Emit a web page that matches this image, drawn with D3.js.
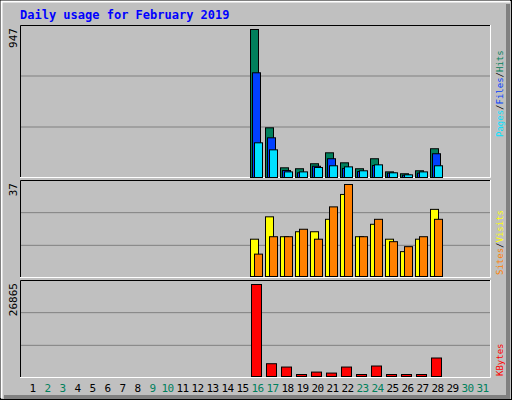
<!DOCTYPE html><html><head><meta charset="utf-8">
<script src="https://d3js.org/d3.v7.min.js"></script>
<style>body{margin:0}svg{display:block}</style></head><body>
<script>
const days = d3.range(1,32);
const weekend = [2,3,9,10,16,17,23,24,30,31];
const dataDays = [16,17,18,19,20,21,22,23,24,25,26,27,28];
const hits  = [947,318,62,56,88,158,94,56,120,36,24,43,184];
const files = [670,254,45,30,72,120,58,38,77,28,15,28,152];
const pages = [222,177,36,36,64,75,68,43,81,30,17,36,75];
const sites = [15,24,16,18,18,23,33,16,21,15,10,15,27];
const visits= [9,16,16,19,15,28,37,16,23,14,12,16,23];
const kbytes= [26865,3730,2760,200,1290,1000,2760,200,3060,200,200,200,5400];
const maxLabels = ["947","37","26865"];

const W=512,H=400;
const svg=d3.select("body").append("svg").attr("width",W).attr("height",H);
svg.append("rect").attr("width",W).attr("height",H).attr("fill","#c0c0c0");
svg.append("rect").attr("x",0.5).attr("y",0.5).attr("width",W-1).attr("height",H-1).attr("fill","none").attr("stroke","#000");
svg.append("path").attr("d","M1.5,398V1.5H510").attr("stroke","#fff").attr("stroke-width",2).attr("fill","none");
svg.append("path").attr("d","M4,397H508V4").attr("stroke","#808080").attr("stroke-width",4).attr("fill","none");

svg.append("text").attr("x",20).attr("y",19).text("Daily usage for February 2019")
 .attr("fill","#0000ff").attr("font-family","DejaVu Sans Mono").attr("font-weight","bold").attr("font-size",12);

const x=d3.scaleBand().domain(days).range([25,490]).paddingInner(0);
const panels=[{y0:25,y1:178},{y0:180,y1:278},{y0:280,y1:378}];
panels.forEach((p,i)=>{
  const h=p.y1-p.y0;
  [1,2].forEach(k=>svg.append("line").attr("x1",21).attr("x2",490).attr("y1",p.y0+h*k/3).attr("y2",p.y0+h*k/3).attr("stroke","#808080"));
  svg.append("path").attr("d",`M20.5,${p.y1}V${p.y0+0.5}H490`).attr("stroke","#000").attr("fill","none");
  svg.append("path").attr("d",`M20,${p.y1-0.5}H490.5V${p.y0}`).attr("stroke","#fff").attr("fill","none");
  svg.append("text").attr("transform",`translate(17,${p.y0+3}) rotate(-90)`).attr("text-anchor","end")
   .text(maxLabels[i]).attr("font-family","DejaVu Sans Mono").attr("font-size",11).attr("fill","#000");
});
const y1=d3.scaleLinear().domain([0,947]).range([177,29]);
const y2=d3.scaleLinear().domain([0,37]).range([276,184]);
const y3=d3.scaleLinear().domain([0,26865]).range([376,284]);
function bars(vals,y,off,w,col){
  svg.append("g").selectAll("rect").data(vals).join("rect")
   .attr("x",(v,i)=>x(dataDays[i])+off+0.5).attr("y",v=>Math.min(y(v),y(0)-2)+0.5)
   .attr("width",w).attr("height",v=>Math.max(y(0)-y(v),2)).attr("fill",col).attr("stroke","#000");
}
bars(hits,y1,0,8,"#00805c");
bars(files,y1,2,8,"#0040ff");
bars(pages,y1,4,8,"#00e0ff");
bars(sites,y2,0,8,"#ffff00");
bars(visits,y2,4,8,"#ff8000");
bars(kbytes,y3,1,10,"#ff0000");

svg.append("g").selectAll("text").data(days).join("text")
 .attr("x",d=>x(d)+7.5).attr("y",392).attr("text-anchor","middle").text(d=>d)
 .attr("font-family","DejaVu Sans Mono").attr("font-size",11).attr("letter-spacing",-0.5)
 .attr("fill",d=>weekend.includes(d)?"#00805c":"#000");

function rlabel(parts,yb){
  const t=svg.append("text").attr("transform",`translate(503,${yb}) rotate(-90)`)
   .attr("font-family","DejaVu Sans Mono").attr("font-size",9);
  parts.forEach(([s,c])=>t.append("tspan").text(s).attr("fill",c));
}
rlabel([["Pages","#00e0ff"],["/","#000"],["Files","#0040ff"],["/","#000"],["Hits","#00805c"]],137);
rlabel([["Sites","#ff8000"],["/","#000"],["Visits","#ffff00"]],275);
rlabel([["KBytes","#ff0000"]],376);
</script></body></html>
